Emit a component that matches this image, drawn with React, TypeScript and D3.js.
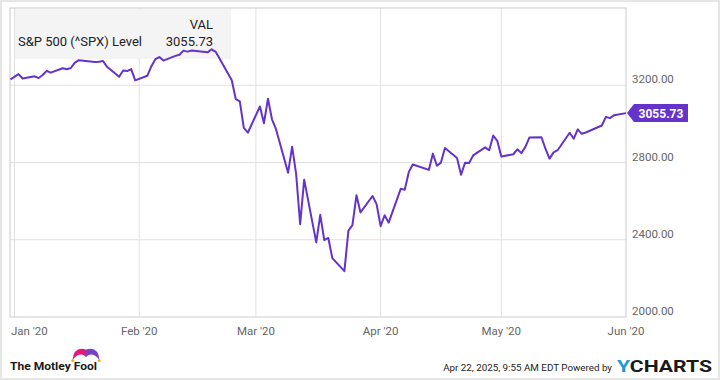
import React from "react";
import * as d3 from "d3";

const dates: string[] = [
  "2019-12-31","2020-01-02","2020-01-03","2020-01-06","2020-01-07","2020-01-08","2020-01-09","2020-01-10",
  "2020-01-13","2020-01-14","2020-01-15","2020-01-16","2020-01-17","2020-01-21","2020-01-22","2020-01-23",
  "2020-01-24","2020-01-27","2020-01-28","2020-01-29","2020-01-30","2020-01-31","2020-02-03","2020-02-04",
  "2020-02-05","2020-02-06","2020-02-07","2020-02-10","2020-02-11","2020-02-12","2020-02-13","2020-02-14",
  "2020-02-18","2020-02-19","2020-02-20","2020-02-21","2020-02-24","2020-02-25","2020-02-26","2020-02-27",
  "2020-02-28","2020-03-02","2020-03-03","2020-03-04","2020-03-05","2020-03-06","2020-03-09","2020-03-10",
  "2020-03-11","2020-03-12","2020-03-13","2020-03-16","2020-03-17","2020-03-18","2020-03-19","2020-03-20",
  "2020-03-23","2020-03-24","2020-03-25","2020-03-26","2020-03-27","2020-03-30","2020-03-31","2020-04-01",
  "2020-04-02","2020-04-03","2020-04-06","2020-04-07","2020-04-08","2020-04-09","2020-04-13","2020-04-14",
  "2020-04-15","2020-04-16","2020-04-17","2020-04-20","2020-04-21","2020-04-22","2020-04-23","2020-04-24",
  "2020-04-27","2020-04-28","2020-04-29","2020-04-30","2020-05-01","2020-05-04","2020-05-05","2020-05-06",
  "2020-05-07","2020-05-08","2020-05-11","2020-05-12","2020-05-13","2020-05-14","2020-05-15","2020-05-18",
  "2020-05-19","2020-05-20","2020-05-21","2020-05-22","2020-05-26","2020-05-27","2020-05-28","2020-05-29",
  "2020-06-01"
];

const levels: number[] = [
  3230.78,3257.85,3234.85,3246.28,3237.18,3253.05,3274.70,3265.35,
  3288.13,3283.15,3289.29,3316.81,3329.62,3320.79,3321.75,3325.54,
  3295.47,3243.63,3276.24,3273.40,3283.66,3225.52,3248.92,3297.59,
  3334.69,3345.78,3327.71,3352.09,3357.75,3379.45,3373.94,3380.16,
  3370.29,3386.15,3373.23,3337.75,3225.89,3128.21,3116.39,2978.76,
  2954.22,3090.23,3003.37,3130.12,3023.94,2972.37,2746.56,2882.23,
  2741.38,2480.64,2711.02,2386.13,2529.19,2398.10,2409.39,2304.92,
  2237.40,2447.33,2475.56,2630.07,2541.47,2626.65,2584.59,2470.50,
  2526.90,2488.65,2663.68,2659.41,2749.98,2789.82,2761.63,2846.06,
  2783.36,2799.55,2874.56,2823.16,2736.56,2799.31,2797.80,2836.74,
  2878.48,2863.39,2939.51,2912.43,2830.71,2842.74,2868.44,2848.42,
  2881.19,2929.80,2930.32,2870.12,2820.00,2852.50,2863.70,2953.91,
  2922.94,2971.61,2948.51,2955.45,2991.77,3036.13,3029.73,3044.31,
  3055.73
];

const yTicks: number[] = [2000, 2400, 2800, 3200];
const xTickDates: string[] = ["2020-01-01","2020-02-01","2020-03-01","2020-04-01","2020-05-01","2020-06-01"];
const xTickLabels: string[] = ["Jan '20","Feb '20","Mar '20","Apr '20","May '20","Jun '20"];
const seriesName = "S&P 500 (^SPX) Level";
const lastValueLabel = "3055.73";
const timestamp = "Apr 22, 2025, 9:55 AM EDT Powered by";

const FONT = "Roboto, 'Noto Sans', sans-serif";
const PURPLE = "#6533c9";

export default function App() {
  const W = 720, H = 380;
  const left = 10, right = 626, top = 8, bottom = 317;
  const parse = d3.timeParse("%Y-%m-%d");
  const pts = dates.map((d, i) => ({ date: parse(d) as Date, v: levels[i] }));

  const x = d3.scaleTime()
    .domain([parse("2019-12-31") as Date, parse("2020-06-01") as Date])
    .range([10.5, right]);
  const y = d3.scaleLinear().domain([2000, 3600]).range([bottom, top]);

  const line = d3.line<{ date: Date; v: number }>()
    .x(d => x(d.date))
    .y(d => y(d.v));

  const last = pts[pts.length - 1];
  const ly = y(last.v);
  const lx = x(last.date);

  return (
    <svg width={W} height={H} style={{ position: "absolute", left: 0, top: 0, fontFamily: FONT }}>
      <rect x={0} y={0} width={W} height={H} fill="#ffffff" />
      <rect x={1} y={1} width={W - 2} height={H - 2} fill="none" stroke="#e6e6e6" strokeWidth={2} />

      {/* gridlines */}
      {yTicks.filter(t => t > 2000).map(t => (
        <line key={"gy" + t} x1={left} x2={right} y1={y(t)} y2={y(t)} stroke="#e1e1e1" strokeWidth={1} />
      ))}
      {xTickDates.slice(0, 5).map(d => (
        <line key={"gx" + d} x1={x(parse(d) as Date)} x2={x(parse(d) as Date)} y1={top} y2={bottom} stroke="#e1e1e1" strokeWidth={1} />
      ))}

      {/* legend box */}
      <rect x={15} y={9} width={216} height={50} fill="#f4f4f4" />

      {/* plot frame */}
      <rect x={left} y={top} width={right - left} height={bottom - top} fill="none" stroke="#cccccc" strokeWidth={1} />

      {/* series */}
      <path d={line(pts) || ""} fill="none" stroke={PURPLE} strokeWidth={2} strokeLinejoin="round" />

      {/* legend text */}
      <text x={213} y={29} textAnchor="end" fontSize={13} fill="#222">VAL</text>
      <text x={18} y={46} fontSize={13} fill="#222">{seriesName}</text>
      <text x={213} y={46} textAnchor="end" fontSize={13} fill="#222">{lastValueLabel}</text>

      {/* y axis labels */}
      {yTicks.map(t => (
        <text key={"yl" + t} x={632} y={y(t) - 2} fontSize={11.5} fill="#666">{t.toFixed(2)}</text>
      ))}

      {/* last value flag */}
      <path
        d={`M${lx + 1},${ly} L${lx + 8},${ly - 9} L${lx + 62},${ly - 9} L${lx + 62},${ly + 9} L${lx + 8},${ly + 9} Z`}
        fill={PURPLE}
      />
      <text x={lx + 35} y={ly + 4.5} textAnchor="middle" fontSize={12} fontWeight="bold" fill="#fff">{lastValueLabel}</text>

      {/* x axis labels */}
      {xTickDates.map((d, i) => {
        const xp = x(parse(d) as Date);
        const first = i === 0;
        return (
          <text key={"xl" + d} x={first ? left + 1 : xp} y={335} textAnchor={first ? "start" : "middle"} fontSize={11.5} fill="#666">
            {xTickLabels[i]}
          </text>
        );
      })}

      {/* Motley Fool logo */}
      <path d="M72.5,360 Q74,345.5 86,349.5 L86,357 Q80,351 72.5,360 Z" fill="#e6177c" />
      <path d="M99.5,360 Q98,345.5 86,349.5 L86,357 Q92,351 99.5,360 Z" fill="#7a3fc2" />
      <circle cx={72.8} cy={360.5} r={1.6} fill="#f2b21c" />
      <circle cx={99.2} cy={360.5} r={1.6} fill="#f2b21c" />
      <text x={10} y={369.5} fontSize={11.5} fontWeight="bold" fill="#1a1a1a" textLength={87} lengthAdjust="spacingAndGlyphs">The Motley Fool</text>

      {/* footer */}
      <text x={612} y={371} textAnchor="end" fontSize={9.8} fill="#222">{timestamp}</text>
      <text x={617} y={371.5} fontSize={16.5} fontWeight="bold" fill="#1a1a1a" textLength={95} lengthAdjust="spacingAndGlyphs">
        <tspan fill="#1f9ad6">Y</tspan>CHARTS
      </text>
    </svg>
  );
}
